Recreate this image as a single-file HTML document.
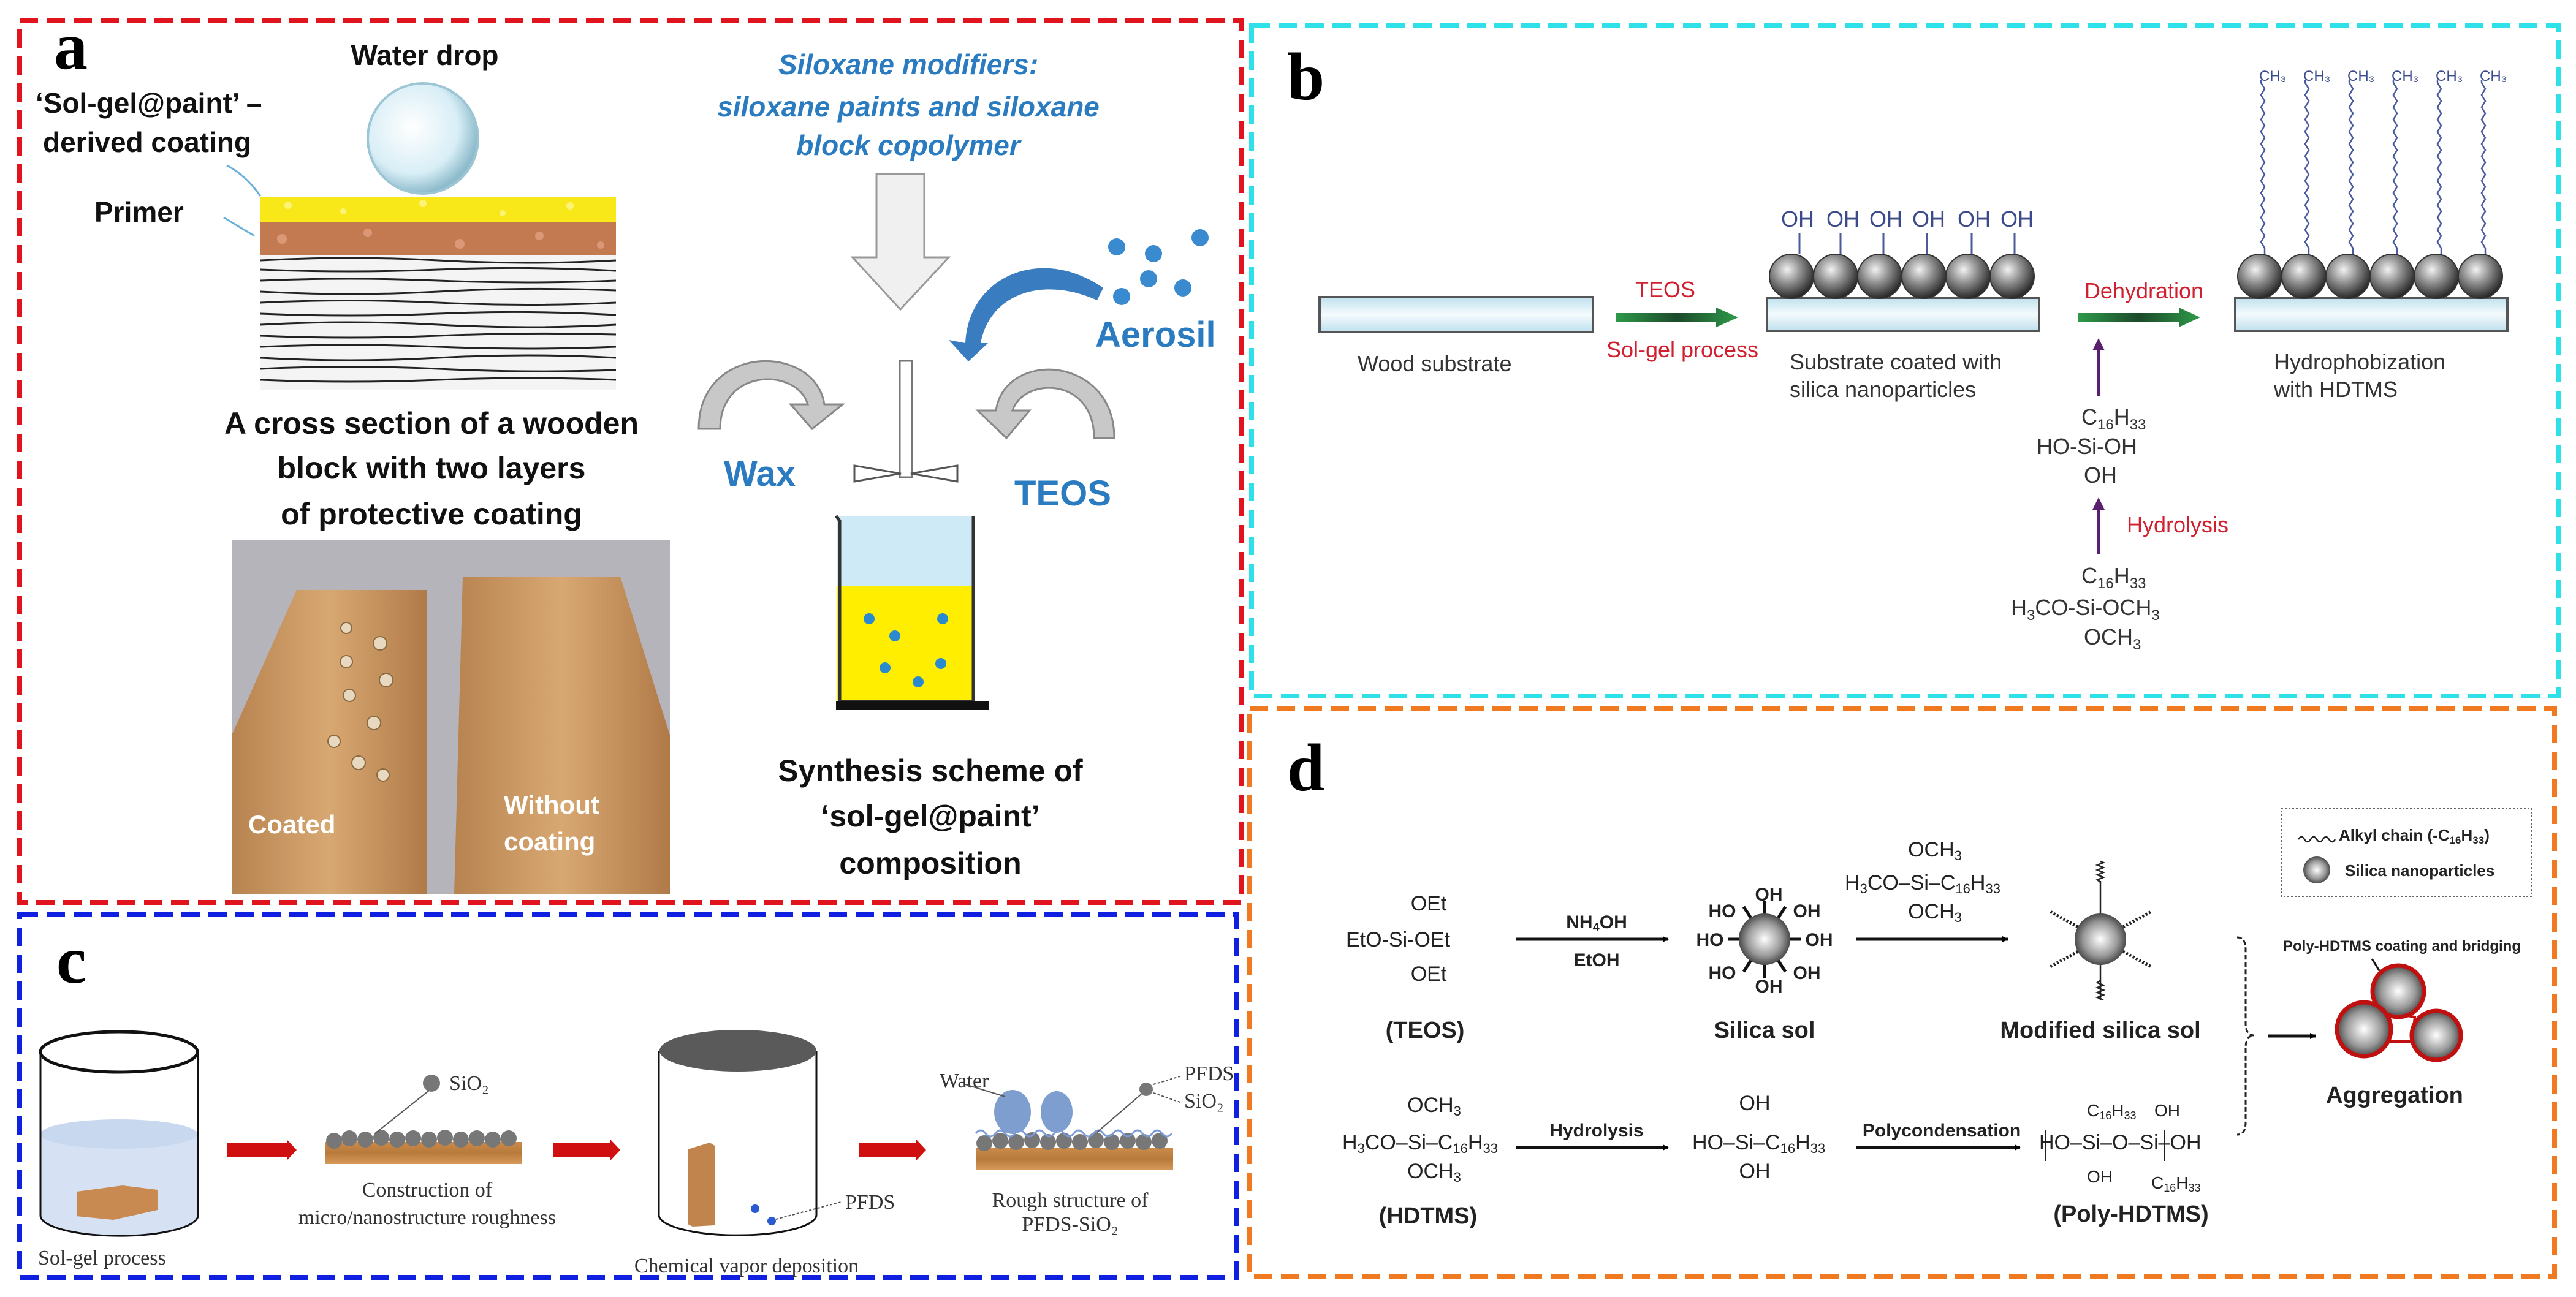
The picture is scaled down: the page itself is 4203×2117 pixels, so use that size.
<!DOCTYPE html>
<html><head><meta charset="utf-8"><style>html,body{margin:0;padding:0;background:#fff}svg{display:block}</style></head>
<body>
<svg xmlns="http://www.w3.org/2000/svg" width="4203" height="2117" viewBox="0 0 4203 2117" font-family="Liberation Sans, Arial, sans-serif">
<defs>
<radialGradient id="sph" cx="40%" cy="35%" r="65%"><stop offset="0" stop-color="#f2f2f2"/><stop offset="0.5" stop-color="#8a8a8a"/><stop offset="1" stop-color="#2a2a2a"/></radialGradient>
<radialGradient id="sph2" cx="50%" cy="50%" r="55%"><stop offset="0" stop-color="#ffffff"/><stop offset="0.6" stop-color="#999"/><stop offset="1" stop-color="#333"/></radialGradient>
<linearGradient id="sub" x1="0" y1="0" x2="0" y2="1"><stop offset="0" stop-color="#bfe0ee"/><stop offset="0.5" stop-color="#f4fbfd"/><stop offset="1" stop-color="#bfe0ee"/></linearGradient>
<linearGradient id="grn" x1="0" y1="0" x2="1" y2="0"><stop offset="0" stop-color="#2e9a4a"/><stop offset="0.5" stop-color="#1c4a2a"/><stop offset="1" stop-color="#2e9a4a"/></linearGradient>
<linearGradient id="wood" x1="0" y1="0" x2="0" y2="1"><stop offset="0" stop-color="#c98a4a"/><stop offset="0.5" stop-color="#b87a3a"/><stop offset="1" stop-color="#d79a5a"/></linearGradient>
<linearGradient id="blk" x1="0" y1="0" x2="1" y2="0"><stop offset="0" stop-color="#b78350"/><stop offset="0.5" stop-color="#d8a872"/><stop offset="1" stop-color="#b07a48"/></linearGradient>
<radialGradient id="drop" cx="40%" cy="40%" r="60%"><stop offset="0" stop-color="#ffffff"/><stop offset="0.7" stop-color="#d8eef6"/><stop offset="1" stop-color="#8fbccc"/></radialGradient>
<marker id="ah" markerWidth="10" markerHeight="10" refX="9" refY="5" orient="auto" markerUnits="userSpaceOnUse" viewBox="0 0 10 10"><path d="M0,0L10,5L0,10z" fill="#000"/></marker>
</defs>

<!-- Panel borders -->
<rect x="32" y="34" width="1993" height="1439" fill="none" stroke="#e0141c" stroke-width="8" stroke-dasharray="30,14"/>
<rect x="2042" y="42" width="2132" height="1094" fill="none" stroke="#2ee0e8" stroke-width="8" stroke-dasharray="30,14"/>
<rect x="32" y="1492" width="1985" height="593" fill="none" stroke="#1020e0" stroke-width="8" stroke-dasharray="30,14"/>
<rect x="2039" y="1156" width="2129" height="927" fill="none" stroke="#f07a22" stroke-width="8" stroke-dasharray="30,14"/>

<!-- Panel labels -->
<g font-family="Liberation Serif, serif" font-weight="bold" font-size="110" fill="#000">
<text x="88" y="112">a</text><text x="2100" y="162">b</text><text x="92" y="1604">c</text><text x="2100" y="1290">d</text>
</g>

<!-- ===== Panel a ===== -->
<g font-weight="bold" fill="#111">
<text x="693" y="106" font-size="46" text-anchor="middle">Water drop</text>
<text x="58" y="184" font-size="46">‘Sol-gel@paint’ –</text>
<text x="70" y="248" font-size="46">derived coating</text>
<text x="154" y="362" font-size="46">Primer</text>
</g>
<circle cx="690" cy="226" r="90" fill="url(#drop)" stroke="#9cc6d4" stroke-width="4"/>
<path d="M370,270 Q400,285 425,320" stroke="#6ab0d8" stroke-width="3" fill="none"/>
<path d="M365,355 Q390,370 415,385" stroke="#6ab0d8" stroke-width="3" fill="none"/>
<rect x="425" y="321" width="580" height="42" fill="#f8e81a"/>
<rect x="425" y="363" width="580" height="53" fill="#c47a50"/>
<g fill="#fff8a0" opacity="0.7"><circle cx="470" cy="335" r="6"/><circle cx="560" cy="345" r="5"/><circle cx="690" cy="332" r="6"/><circle cx="820" cy="348" r="5"/><circle cx="930" cy="336" r="6"/></g>
<g fill="#e0a080" opacity="0.8"><circle cx="460" cy="390" r="8"/><circle cx="600" cy="380" r="7"/><circle cx="750" cy="398" r="8"/><circle cx="880" cy="385" r="7"/><circle cx="980" cy="400" r="6"/></g>
<rect x="425" y="416" width="580" height="220" fill="#f4f4f4"/>
<g stroke="#222" stroke-width="3" fill="none">
<path d="M425,425 q145,-8 290,0 t290,0"/><path d="M425,440 q145,6 290,0 t290,2"/><path d="M425,458 q145,-6 290,0 t290,0"/>
<path d="M425,476 q145,8 290,0 t290,-2"/><path d="M425,494 q145,-7 290,0 t290,0"/><path d="M425,512 q145,6 290,0 t290,2"/>
<path d="M425,530 q145,-8 290,0 t290,0"/><path d="M425,548 q145,6 290,0 t290,-2"/><path d="M425,566 q145,-6 290,0 t290,0"/>
<path d="M425,584 q145,8 290,0 t290,0"/><path d="M425,602 q145,-7 290,0 t290,2"/><path d="M425,620 q145,6 290,0 t290,0"/>
</g>
<g font-weight="bold" font-size="50" fill="#111" text-anchor="middle">
<text x="704" y="708">A cross section  of a wooden</text>
<text x="704" y="781">block with two layers</text>
<text x="704" y="856">of protective coating</text>
</g>
<!-- photo -->
<rect x="378" y="882" width="715" height="578" fill="#b4b4ba"/>
<polygon points="484,963 697,963 697,1460 378,1460 378,1200" fill="url(#blk)"/>
<polygon points="755,941 1012,941 1093,1200 1093,1460 741,1460" fill="url(#blk)"/>
<g fill="#e8d8c0" stroke="#8a6a40" stroke-width="2"><circle cx="565" cy="1025" r="9"/><circle cx="620" cy="1050" r="11"/><circle cx="565" cy="1080" r="10"/><circle cx="630" cy="1110" r="11"/><circle cx="570" cy="1135" r="10"/><circle cx="610" cy="1180" r="11"/><circle cx="545" cy="1210" r="10"/><circle cx="585" cy="1245" r="11"/><circle cx="625" cy="1265" r="10"/></g>
<g font-weight="bold" font-size="42" fill="#fff"><text x="405" y="1360">Coated</text><text x="822" y="1328">Without</text><text x="822" y="1388">coating</text></g>

<g font-weight="bold" font-style="italic" font-size="46" fill="#2a7bc0" text-anchor="middle">
<text x="1482" y="121">Siloxane modifiers:</text>
<text x="1482" y="190">siloxane paints and siloxane</text>
<text x="1482" y="253">block copolymer</text>
</g>
<polygon points="1430,284 1508,284 1508,420 1548,420 1469,505 1391,420 1430,420" fill="#f0f0f0" stroke="#999" stroke-width="3"/>
<!-- stirrer -->
<rect x="1468" y="589" width="20" height="190" fill="#fff" stroke="#777" stroke-width="3"/>
<polygon points="1394,760 1470,773 1394,786" fill="#fff" stroke="#555" stroke-width="3"/>
<polygon points="1562,760 1486,773 1562,786" fill="#fff" stroke="#555" stroke-width="3"/>
<!-- beaker -->
<rect x="1366" y="842" width="224" height="115" fill="#cdeaf6"/>
<rect x="1366" y="957" width="224" height="188" fill="#ffee00"/>
<path d="M1364,842 L1370,850 L1370,1145 L1588,1145 L1588,842" fill="none" stroke="#333" stroke-width="5"/>
<rect x="1364" y="1145" width="250" height="14" fill="#111"/>
<g fill="#2a8ad0"><circle cx="1418" cy="1010" r="9"/><circle cx="1460" cy="1038" r="9"/><circle cx="1538" cy="1010" r="9"/><circle cx="1444" cy="1090" r="9"/><circle cx="1535" cy="1083" r="9"/><circle cx="1498" cy="1113" r="9"/></g>
<!-- curved arrows -->
<path d="M1140,700 C1140,560 1330,560 1345,660 L1375,660 L1325,700 L1290,660 L1318,660 C1300,600 1175,600 1175,700 Z" fill="#c8c8c8" stroke="#888" stroke-width="3"/>
<path d="M1818,715 C1818,580 1640,570 1625,670 L1595,670 L1642,715 L1680,670 L1652,670 C1670,615 1785,615 1785,715 Z" fill="#c8c8c8" stroke="#888" stroke-width="3"/>
<path d="M1800,470 C1700,400 1580,450 1575,560 L1548,555 L1580,590 L1612,560 L1600,560 C1615,480 1700,450 1790,490 Z" fill="#3a7cc0"/>
<g fill="#3a8ad0"><circle cx="1822" cy="403" r="14"/><circle cx="1882" cy="414" r="14"/><circle cx="1958" cy="388" r="14"/><circle cx="1874" cy="455" r="14"/><circle cx="1930" cy="470" r="14"/><circle cx="1830" cy="484" r="14"/></g>
<g font-weight="bold" font-size="58" fill="#2a7bc0"><text x="1787" y="566">Aerosil</text><text x="1181" y="793">Wax</text><text x="1655" y="825">TEOS</text></g>
<g font-weight="bold" font-size="50" fill="#111" text-anchor="middle">
<text x="1518" y="1275">Synthesis  scheme of</text>
<text x="1518" y="1349">‘sol-gel@paint’</text>
<text x="1518" y="1426">composition</text>
</g>

<!-- ===== Panel b ===== -->
<rect x="2153" y="485" width="446" height="57" fill="url(#sub)" stroke="#555" stroke-width="4"/>
<rect x="2883" y="486" width="444" height="54" fill="url(#sub)" stroke="#555" stroke-width="4"/>
<rect x="3647" y="486" width="444" height="54" fill="url(#sub)" stroke="#555" stroke-width="4"/>
<g fill="url(#sph)" stroke="#333" stroke-width="2">
<circle cx="2923" cy="451" r="36"/><circle cx="2995" cy="451" r="36"/><circle cx="3067" cy="451" r="36"/><circle cx="3139" cy="451" r="36"/><circle cx="3211" cy="451" r="36"/><circle cx="3283" cy="451" r="36"/>
<circle cx="3687" cy="451" r="36"/><circle cx="3759" cy="451" r="36"/><circle cx="3831" cy="451" r="36"/><circle cx="3903" cy="451" r="36"/><circle cx="3975" cy="451" r="36"/><circle cx="4047" cy="451" r="36"/>
</g>
<g stroke="#4a5a9a" stroke-width="3">
<line x1="2936" y1="381" x2="2936" y2="415"/><line x1="3003" y1="381" x2="3003" y2="415"/><line x1="3073" y1="381" x2="3073" y2="415"/><line x1="3144" y1="381" x2="3144" y2="415"/><line x1="3217" y1="381" x2="3217" y2="415"/><line x1="3287" y1="381" x2="3287" y2="415"/>
</g>
<g font-size="36" fill="#3a4a8a"><text x="2906" y="370">OH</text><text x="2980" y="370">OH</text><text x="3050" y="370">OH</text><text x="3120" y="370">OH</text><text x="3194" y="370">OH</text><text x="3264" y="370">OH</text></g>
<g stroke="#4a5aa0" stroke-width="2.5" fill="none">
<path d="M3695,415 l0,-10 l-6,-10 l6,-10 l-6,-10 l6,-10 l-6,-10 l6,-10 l-6,-10 l6,-10 l-6,-10 l6,-10 l-6,-10 l6,-10 l-6,-10 l6,-10 l-6,-10 l6,-10 l-6,-10 l6,-10 l-6,-10 l6,-10 l-6,-10 l6,-10 l-6,-10 l6,-10 l-6,-10 l6,-10 l-6,-10 l0,-5"/>
<path d="M3767,415 l0,-10 l-6,-10 l6,-10 l-6,-10 l6,-10 l-6,-10 l6,-10 l-6,-10 l6,-10 l-6,-10 l6,-10 l-6,-10 l6,-10 l-6,-10 l6,-10 l-6,-10 l6,-10 l-6,-10 l6,-10 l-6,-10 l6,-10 l-6,-10 l6,-10 l-6,-10 l6,-10 l-6,-10 l6,-10 l-6,-10 l0,-5"/>
<path d="M3839,415 l0,-10 l-6,-10 l6,-10 l-6,-10 l6,-10 l-6,-10 l6,-10 l-6,-10 l6,-10 l-6,-10 l6,-10 l-6,-10 l6,-10 l-6,-10 l6,-10 l-6,-10 l6,-10 l-6,-10 l6,-10 l-6,-10 l6,-10 l-6,-10 l6,-10 l-6,-10 l6,-10 l-6,-10 l6,-10 l-6,-10 l0,-5"/>
<path d="M3911,415 l0,-10 l-6,-10 l6,-10 l-6,-10 l6,-10 l-6,-10 l6,-10 l-6,-10 l6,-10 l-6,-10 l6,-10 l-6,-10 l6,-10 l-6,-10 l6,-10 l-6,-10 l6,-10 l-6,-10 l6,-10 l-6,-10 l6,-10 l-6,-10 l6,-10 l-6,-10 l6,-10 l-6,-10 l6,-10 l-6,-10 l0,-5"/>
<path d="M3983,415 l0,-10 l-6,-10 l6,-10 l-6,-10 l6,-10 l-6,-10 l6,-10 l-6,-10 l6,-10 l-6,-10 l6,-10 l-6,-10 l6,-10 l-6,-10 l6,-10 l-6,-10 l6,-10 l-6,-10 l6,-10 l-6,-10 l6,-10 l-6,-10 l6,-10 l-6,-10 l6,-10 l-6,-10 l6,-10 l-6,-10 l0,-5"/>
<path d="M4055,415 l0,-10 l-6,-10 l6,-10 l-6,-10 l6,-10 l-6,-10 l6,-10 l-6,-10 l6,-10 l-6,-10 l6,-10 l-6,-10 l6,-10 l-6,-10 l6,-10 l-6,-10 l6,-10 l-6,-10 l6,-10 l-6,-10 l6,-10 l-6,-10 l6,-10 l-6,-10 l6,-10 l-6,-10 l6,-10 l-6,-10 l0,-5"/>
</g>
<g font-size="24" fill="#3a4a8a"><text x="3686" y="132">CH₃</text><text x="3758" y="132">CH₃</text><text x="3830" y="132">CH₃</text><text x="3902" y="132">CH₃</text><text x="3974" y="132">CH₃</text><text x="4046" y="132">CH₃</text></g>
<!-- green arrows -->
<polygon points="2636,511 2800,511 2800,502 2836,518 2800,534 2800,525 2636,525" fill="url(#grn)"/>
<polygon points="3390,511 3555,511 3555,502 3590,518 3555,534 3555,525 3390,525" fill="url(#grn)"/>
<!-- purple arrows -->
<line x1="3424" y1="646" x2="3424" y2="570" stroke="#5a2070" stroke-width="6"/><polygon points="3414,572 3424,552 3434,572" fill="#5a2070"/>
<line x1="3424" y1="905" x2="3424" y2="830" stroke="#5a2070" stroke-width="6"/><polygon points="3414,832 3424,812 3434,832" fill="#5a2070"/>
<g font-size="36" fill="#d02030">
<text x="2717" y="485" text-anchor="middle">TEOS</text>
<text x="2745" y="583" text-anchor="middle">Sol-gel process</text>
<text x="3498" y="487" text-anchor="middle">Dehydration</text>
<text x="3470" y="869">Hydrolysis</text>
</g>
<g font-size="36" fill="#333">
<text x="2215" y="606">Wood substrate</text>
<text x="2920" y="603">Substrate coated with</text>
<text x="2920" y="648">silica nanoparticles</text>
<text x="3710" y="603">Hydrophobization</text>
<text x="3710" y="648">with HDTMS</text>
</g>
<g font-size="36" fill="#333">
<text x="3396" y="693">C<tspan font-size="24" dy="8">16</tspan><tspan dy="-8">H</tspan><tspan font-size="24" dy="8">33</tspan></text>
<text x="3323" y="741">HO-Si-OH</text>
<text x="3400" y="788">OH</text>
<text x="3396" y="952">C<tspan font-size="24" dy="8">16</tspan><tspan dy="-8">H</tspan><tspan font-size="24" dy="8">33</tspan></text>
<text x="3281" y="1004">H<tspan font-size="24" dy="8">3</tspan><tspan dy="-8">CO-Si-OCH</tspan><tspan font-size="24" dy="8">3</tspan></text>
<text x="3400" y="1052">OCH<tspan font-size="24" dy="8">3</tspan></text>
</g>

<!-- ===== Panel c ===== -->
<g font-family="Liberation Serif, serif" font-size="34" fill="#333">
<text x="62" y="2064">Sol-gel process</text>
<text x="697" y="1953" text-anchor="middle">Construction of</text>
<text x="697" y="1998" text-anchor="middle">micro/nanostructure roughness</text>
<text x="1218" y="2077" text-anchor="middle">Chemical vapor deposition</text>
<text x="1746" y="1970" text-anchor="middle">Rough structure of</text>
<text x="1746" y="2009" text-anchor="middle">PFDS-SiO₂</text>
<text x="733" y="1779">SiO₂</text>
<text x="1379" y="1973">PFDS</text>
<text x="1533" y="1775">Water</text>
<text x="1932" y="1763">PFDS</text>
<text x="1932" y="1808">SiO₂</text>
</g>
<!-- cylinder1 -->
<path d="M66,1851 L66,1984 A128,33 0 0 0 323,1984 L323,1851 Z" fill="#d6e2f4"/>
<ellipse cx="194" cy="1851" rx="128" ry="24" fill="#c8d8ee"/>
<path d="M66,1717 L66,1984 A128,33 0 0 0 323,1984 L323,1717" fill="none" stroke="#111" stroke-width="3"/>
<ellipse cx="194" cy="1717" rx="128" ry="33" fill="none" stroke="#111" stroke-width="5"/>
<polygon points="125,1945 200,1935 257,1942 257,1975 185,1991 125,1985" fill="#c88a50"/>
<!-- red arrows -->
<polygon points="370,1866 468,1866 468,1860 484,1877 468,1894 468,1888 370,1888" fill="#d01010"/>
<polygon points="902,1866 996,1866 996,1860 1012,1877 996,1894 996,1888 902,1888" fill="#d01010"/>
<polygon points="1401,1866 1495,1866 1495,1860 1511,1877 1495,1894 1495,1888 1401,1888" fill="#d01010"/>
<!-- wood with SiO2 -->
<rect x="531" y="1864" width="320" height="36" fill="url(#wood)"/>
<g fill="#777"><circle cx="545" cy="1862" r="13"/><circle cx="570" cy="1858" r="13"/><circle cx="596" cy="1860" r="13"/><circle cx="622" cy="1857" r="13"/><circle cx="648" cy="1860" r="13"/><circle cx="674" cy="1858" r="13"/><circle cx="700" cy="1860" r="13"/><circle cx="726" cy="1857" r="13"/><circle cx="752" cy="1860" r="13"/><circle cx="778" cy="1858" r="13"/><circle cx="804" cy="1860" r="13"/><circle cx="830" cy="1858" r="13"/></g>
<ellipse cx="704" cy="1768" rx="14" ry="14" fill="#777"/>
<line x1="700" y1="1780" x2="612" y2="1850" stroke="#555" stroke-width="2"/>
<!-- cylinder2 -->
<path d="M1075,1715 L1075,1983 A128,33 0 0 0 1332,1983 L1332,1715" fill="none" stroke="#111" stroke-width="3"/>
<ellipse cx="1204" cy="1715" rx="128" ry="34" fill="#5a5a5a"/>
<polygon points="1122,1876 1158,1865 1166,1870 1166,2000 1130,2002 1122,1998" fill="#c0844c"/>
<circle cx="1232" cy="1973" r="7" fill="#2a5ad0"/><circle cx="1259" cy="1993" r="7" fill="#2a5ad0"/>
<line x1="1266" y1="1990" x2="1372" y2="1962" stroke="#555" stroke-width="2" stroke-dasharray="4,3"/>
<!-- rough structure -->
<rect x="1592" y="1874" width="322" height="36" fill="url(#wood)"/>
<g fill="#777"><circle cx="1606" cy="1866" r="13"/><circle cx="1632" cy="1862" r="13"/><circle cx="1658" cy="1864" r="13"/><circle cx="1684" cy="1861" r="13"/><circle cx="1710" cy="1864" r="13"/><circle cx="1736" cy="1862" r="13"/><circle cx="1762" cy="1864" r="13"/><circle cx="1788" cy="1861" r="13"/><circle cx="1814" cy="1864" r="13"/><circle cx="1840" cy="1862" r="13"/><circle cx="1866" cy="1864" r="13"/><circle cx="1892" cy="1862" r="13"/></g>
<path d="M1592,1850 q8,-10 16,0 t16,0 t16,0 t16,0 t16,0 t16,0 t16,0 t16,0 t16,0 t16,0 t16,0 t16,0 t16,0 t16,0 t16,0 t16,0 t16,0 t16,0 t16,0 t16,0" stroke="#7a9ad8" stroke-width="3" fill="none"/>
<ellipse cx="1652" cy="1815" rx="30" ry="36" fill="#7f9ed0"/>
<ellipse cx="1724" cy="1815" rx="26" ry="34" fill="#7f9ed0"/>
<circle cx="1870" cy="1778" r="11" fill="#777"/>
<line x1="1640" y1="1790" x2="1575" y2="1770" stroke="#555" stroke-width="2"/>
<line x1="1862" y1="1786" x2="1790" y2="1848" stroke="#555" stroke-width="2"/>
<line x1="1882" y1="1770" x2="1928" y2="1756" stroke="#555" stroke-width="2" stroke-dasharray="4,3"/>
<line x1="1882" y1="1784" x2="1928" y2="1800" stroke="#555" stroke-width="2" stroke-dasharray="4,3"/>

<!-- ===== Panel d ===== -->
<g font-size="34" fill="#222">
<text x="2331" y="1486" text-anchor="middle">OEt</text>
<text x="2196" y="1545">EtO-Si-OEt</text>
<text x="2331" y="1601" text-anchor="middle">OEt</text>
<text x="3157" y="1398" text-anchor="middle">OCH<tspan font-size="22" dy="6">3</tspan></text>
<text x="3010" y="1452">H<tspan font-size="22" dy="6">3</tspan><tspan dy="-6">CO–Si–C</tspan><tspan font-size="22" dy="6">16</tspan><tspan dy="-6">H</tspan><tspan font-size="22" dy="6">33</tspan></text>
<text x="3157" y="1499" text-anchor="middle">OCH<tspan font-size="22" dy="6">3</tspan></text>
<text x="2340" y="1815" text-anchor="middle">OCH<tspan font-size="22" dy="6">3</tspan></text>
<text x="2190" y="1876">H<tspan font-size="22" dy="6">3</tspan><tspan dy="-6">CO–Si–C</tspan><tspan font-size="22" dy="6">16</tspan><tspan dy="-6">H</tspan><tspan font-size="22" dy="6">33</tspan></text>
<text x="2340" y="1923" text-anchor="middle">OCH<tspan font-size="22" dy="6">3</tspan></text>
<text x="2863" y="1812" text-anchor="middle">OH</text>
<text x="2761" y="1876">HO–Si–C<tspan font-size="22" dy="6">16</tspan><tspan dy="-6">H</tspan><tspan font-size="22" dy="6">33</tspan></text>
<text x="2863" y="1923" text-anchor="middle">OH</text>
<text x="3327" y="1876">HO–Si–O–Si–OH</text>
<text x="3405" y="1822" font-size="28">C<tspan font-size="18" dy="5">16</tspan><tspan dy="-5">H</tspan><tspan font-size="18" dy="5">33</tspan></text>
<text x="3515" y="1822" font-size="28">OH</text>
<text x="3405" y="1930" font-size="28">OH</text>
<text x="3510" y="1940" font-size="28">C<tspan font-size="18" dy="5">16</tspan><tspan dy="-5">H</tspan><tspan font-size="18" dy="5">33</tspan></text>
</g>
<g stroke="#222" stroke-width="2"><line x1="3338" y1="1845" x2="3338" y2="1895"/><line x1="3531" y1="1845" x2="3531" y2="1895"/></g>
<g font-size="30" font-weight="bold" fill="#222" text-anchor="middle">
<text x="2605" y="1515">NH<tspan font-size="20" dy="5">4</tspan><tspan dy="-5">OH</tspan></text>
<text x="2605" y="1577">EtOH</text>
<text x="2605" y="1855">Hydrolysis</text>
<text x="3168" y="1855">Polycondensation</text>
</g>
<g stroke="#111" stroke-width="5">
<line x1="2474" y1="1533" x2="2722" y2="1533" marker-end="url(#ah)"/>
<line x1="3028" y1="1533" x2="3276" y2="1533" marker-end="url(#ah)"/>
<line x1="2474" y1="1873" x2="2722" y2="1873" marker-end="url(#ah)"/>
<line x1="3028" y1="1873" x2="3296" y2="1873" marker-end="url(#ah)"/>
<line x1="3701" y1="1691" x2="3778" y2="1691" marker-end="url(#ah)"/>
</g>
<!-- silica sol -->
<g stroke="#111" stroke-width="5">
<line x1="2879" y1="1533" x2="2819" y2="1533"/><line x1="2879" y1="1533" x2="2939" y2="1533"/>
<line x1="2879" y1="1533" x2="2845" y2="1480"/><line x1="2879" y1="1533" x2="2913" y2="1480"/>
<line x1="2879" y1="1533" x2="2845" y2="1586"/><line x1="2879" y1="1533" x2="2913" y2="1586"/>
<line x1="2879" y1="1533" x2="2879" y2="1470"/><line x1="2879" y1="1533" x2="2879" y2="1596"/>
</g>
<circle cx="2879" cy="1533" r="42" fill="url(#sph2)"/>
<g font-size="30" font-weight="bold" fill="#222" text-anchor="middle">
<text x="2886" y="1470">OH</text><text x="2886" y="1620">OH</text>
<text x="2790" y="1544">HO</text><text x="2968" y="1544">OH</text>
<text x="2810" y="1497">HO</text><text x="2948" y="1497">OH</text>
<text x="2810" y="1598">HO</text><text x="2948" y="1598">OH</text>
</g>
<!-- modified sol -->
<g stroke="#222" stroke-width="2.5" fill="none">
<path d="M3427,1533 l0,-95 m0,0"/><path d="M3427,1440 l-5,-4 l10,-4 l-10,-4 l10,-4 l-10,-4 l10,-4 l-10,-4 l10,-4 l-5,-2"/>
<path d="M3427,1533 l0,100"/><path d="M3427,1600 l-5,4 l10,4 l-10,4 l10,4 l-10,4 l10,4 l-10,4 l10,4"/>
<path d="M3427,1533 L3345,1488 M3427,1533 L3510,1488 M3427,1533 L3345,1578 M3427,1533 L3510,1578" stroke-dasharray="3,3" stroke-width="5"/>
</g>
<circle cx="3427" cy="1533" r="42" fill="url(#sph2)"/>
<g font-size="38" font-weight="bold" fill="#222" text-anchor="middle">
<text x="2325" y="1694">(TEOS)</text>
<text x="2879" y="1694">Silica sol</text>
<text x="3427" y="1694">Modified silica sol</text>
<text x="2330" y="1997">(HDTMS)</text>
<text x="3477" y="1994">(Poly-HDTMS)</text>
<text x="3907" y="1800">Aggregation</text>
</g>
<!-- legend -->
<rect x="3722" y="1320" width="409" height="143" fill="none" stroke="#666" stroke-width="2" stroke-dasharray="3,3"/>
<path d="M3750,1370 q5,-8 10,0 t10,0 t10,0 t10,0 t10,0 t10,0" stroke="#222" stroke-width="2.5" fill="none"/>
<circle cx="3780" cy="1420" r="22" fill="url(#sph2)"/>
<g font-size="26" font-weight="bold" fill="#222"><text x="3816" y="1372">Alkyl chain (-C<tspan font-size="17" dy="5">16</tspan><tspan dy="-5">H</tspan><tspan font-size="17" dy="5">33</tspan><tspan dy="-5">)</tspan></text><text x="3826" y="1430">Silica nanoparticles</text></g>
<!-- brace -->
<path d="M3650,1530 q14,0 14,20 L3664,1670 q0,20 14,20 q-14,0 -14,20 L3664,1832 q0,20 -14,20" fill="none" stroke="#222" stroke-width="3" stroke-dasharray="8,4"/>
<text x="3919" y="1552" font-size="24" font-weight="bold" fill="#222" text-anchor="middle">Poly-HDTMS coating and bridging</text>
<line x1="3870" y1="1565" x2="3895" y2="1605" stroke="#111" stroke-width="3" marker-end="url(#ah)"/>
<path d="M3880,1650 L3940,1660 L3935,1700 L3880,1700 Z" fill="none" stroke="#c01010" stroke-width="4"/>
<circle cx="3913" cy="1618" r="42" fill="url(#sph2)" stroke="#c01010" stroke-width="7"/>
<circle cx="3857" cy="1680" r="44" fill="url(#sph2)" stroke="#c01010" stroke-width="7"/>
<circle cx="3975" cy="1690" r="40" fill="url(#sph2)" stroke="#c01010" stroke-width="7"/>
</svg>
</body></html>
